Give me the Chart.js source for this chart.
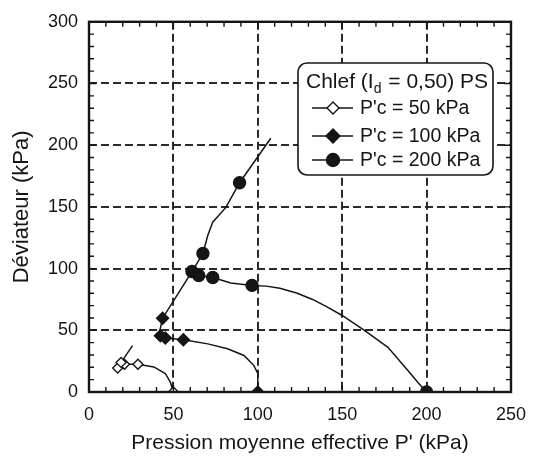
<!DOCTYPE html>
<html>
<head>
<meta charset="utf-8">
<script src="https://cdn.jsdelivr.net/npm/chart.js@4/dist/chart.umd.min.js"></script>
<style>
  html, body { margin: 0; padding: 0; background: #fff; }
  #wrap { width: 538px; height: 461px; position: relative; }
</style>
</head>
<body>
<div id="wrap"><canvas id="chart"></canvas></div>
<script>
const p50 = [50, 48.1, 45.2, 38.4, 29, 21, 17, 19, 25.8];
const q50 = [0, 8.3, 15, 20.3, 22.5, 22.5, 19.5, 24, 37.6];
const mk50 = [1, 0, 0, 0, 1, 1, 1, 1, 0];

const p100 = [100, 100, 97.6, 91.8, 82.1, 70.4, 55.9, 45.2, 42.3, 41.5, 43.6, 61];
const q100 = [0, 15, 21.6, 29.6, 35, 39, 42.4, 43.8, 45.6, 47, 59.8, 97.6];
const mk100 = [1, 0, 0, 0, 0, 0, 1, 1, 1, 0, 1, 0];

const p200 = [200, 195, 188.8, 177.1, 163.6, 150, 141, 132.5, 123, 113.1, 105, 96.6, 84, 73.3, 65, 61, 67.5, 70.4, 73.3, 81.1, 89.2, 107.7];
const q200 = [0, 7.5, 17.6, 36.2, 49.6, 62, 69, 75, 80.2, 84, 85.8, 86.4, 88.3, 92.8, 94.4, 97.6, 112.2, 127, 137.6, 149.6, 169.6, 205.6];
const mk200 = [1, 0, 0, 0, 0, 0, 0, 0, 0, 0, 0, 1, 0, 1, 1, 1, 1, 0, 0, 0, 1, 0];

const seriesLabels = ["P'c = 50 kPa", "P'c = 100 kPa", "P'c = 200 kPa"];
const xTicks = [0, 50, 100, 150, 200, 250];
const yTicks = [0, 50, 100, 150, 200, 250, 300];

const FONT = "'Liberation Sans', Arial, sans-serif";
const INK = "#151515";

function pts(px, qy) {
    return px.map((v, i) => ({ x: v, y: qy[i] }));
}

function serie(label, px, qy, mk, style, radius, fill) {
    return {
        label: label,
        data: pts(px, qy),
        showLine: true,
        borderColor: INK,
        borderWidth: 1.5,
        pointStyle: style,
        pointRadius: mk.map(m => (m ? radius : 0)),
        pointBackgroundColor: fill,
        pointBorderColor: INK,
        pointBorderWidth: 1.4,
        tension: 0,
    };
}

function drawMarker(ctx, style, x, y, r, fill) {
    ctx.beginPath();
    if (style === "circle") {
        ctx.arc(x, y, r, 0, Math.PI * 2);
    } else {
        ctx.moveTo(x, y - r);
        ctx.lineTo(x + r, y);
        ctx.lineTo(x, y + r);
        ctx.lineTo(x - r, y);
        ctx.closePath();
    }
    ctx.fillStyle = fill;
    ctx.fill();
    ctx.lineWidth = 1.4;
    ctx.strokeStyle = INK;
    ctx.stroke();
}

// cadre, petites graduations et legende
const decor = {
    id: "decor",
    afterDraw(chart) {
        const ctx = chart.ctx;
        const a = chart.chartArea;
        const xs = chart.scales.x;
        const ys = chart.scales.y;
        ctx.save();

        ctx.strokeStyle = INK;
        ctx.lineWidth = 1.4;
        for (let v = 10; v < 250; v += 10) {
            const px = xs.getPixelForValue(v);
            const len = v % 50 === 0 ? 7 : 5;
            ctx.beginPath();
            ctx.moveTo(px, a.bottom);
            ctx.lineTo(px, a.bottom - len);
            ctx.moveTo(px, a.top);
            ctx.lineTo(px, a.top + len);
            ctx.stroke();
        }
        for (let v = 10; v < 300; v += 10) {
            const py = ys.getPixelForValue(v);
            const len = v % 50 === 0 ? 7 : 5;
            ctx.beginPath();
            ctx.moveTo(a.left, py);
            ctx.lineTo(a.left + len, py);
            ctx.moveTo(a.right, py);
            ctx.lineTo(a.right - len, py);
            ctx.stroke();
        }

        ctx.lineWidth = 2.4;
        ctx.strokeRect(a.left, a.top, a.right - a.left, a.bottom - a.top);

        // legende
        const bx = 298, by = 63, bw = 195, bh = 112;
        ctx.beginPath();
        ctx.roundRect(bx, by, bw, bh, 9);
        ctx.fillStyle = "#fff";
        ctx.fill();
        ctx.lineWidth = 1.6;
        ctx.strokeStyle = INK;
        ctx.stroke();

        ctx.fillStyle = INK;
        ctx.textBaseline = "alphabetic";
        ctx.textAlign = "left";
        ctx.font = "21px " + FONT;
        let tx = bx + 8;
        const ty = by + 25;
        ctx.fillText("Chlef (I", tx, ty);
        tx += ctx.measureText("Chlef (I").width;
        ctx.font = "14px " + FONT;
        ctx.fillText("d", tx, ty + 5);
        tx += ctx.measureText("d").width + 1;
        ctx.font = "21px " + FONT;
        ctx.fillText(" = 0,50) PS", tx, ty);

        const rows = [
            { y: 108, style: "diamond", r: 6, fill: "#fff" },
            { y: 136, style: "diamond", r: 7, fill: INK },
            { y: 160, style: "circle", r: 6.5, fill: INK },
        ];
        ctx.textBaseline = "middle";
        rows.forEach((row, i) => {
            ctx.beginPath();
            ctx.moveTo(312, row.y);
            ctx.lineTo(353, row.y);
            ctx.lineWidth = 1.5;
            ctx.strokeStyle = INK;
            ctx.stroke();
            drawMarker(ctx, row.style, 333, row.y, row.r, row.fill);
            ctx.fillStyle = INK;
            ctx.font = "19.5px " + FONT;
            ctx.fillText(seriesLabels[i], 360, row.y + 1);
        });

        ctx.restore();
    },
};

function gridColor(c, max) {
    const v = c.tick ? c.tick.value : null;
    return v === 0 || v === max ? "rgba(0,0,0,0)" : "#2a2a2a";
}

new Chart(document.getElementById("chart"), {
    type: "scatter",
    data: {
        datasets: [
            serie(seriesLabels[0], p50, q50, mk50, "rectRot", 5, "#fff"),
            serie(seriesLabels[1], p100, q100, mk100, "rectRot", 6, INK),
            serie(seriesLabels[2], p200, q200, mk200, "circle", 6, INK),
        ],
    },
    options: {
        responsive: true,
        maintainAspectRatio: false,
        animation: false,
        layout: { padding: { left: 0, right: 20, top: 17, bottom: 0 } },
        plugins: {
            legend: { display: false },
            tooltip: { enabled: false },
        },
        scales: {
            x: {
                type: "linear",
                min: 0,
                max: 250,
                afterBuildTicks: (s) => { s.ticks = xTicks.map(v => ({ value: v })); },
                afterFit: (s) => { s.height = 69; },
                ticks: {
                    color: INK,
                    padding: 12,
                    font: { family: FONT, size: 18 },
                },
                grid: {
                    drawTicks: false,
                    color: (c) => gridColor(c, 250),
                    lineWidth: 2,
                },
                border: { display: false, dash: [8, 4] },
                title: {
                    display: true,
                    text: "Pression moyenne effective P' (kPa)",
                    color: INK,
                    font: { family: FONT, size: 21 },
                    padding: { top: 0, bottom: 5 },
                },
            },
            y: {
                type: "linear",
                min: 0,
                max: 300,
                afterBuildTicks: (s) => { s.ticks = yTicks.map(v => ({ value: v })); },
                afterFit: (s) => { s.width = 89; },
                ticks: {
                    color: INK,
                    padding: 11,
                    font: { family: FONT, size: 18 },
                },
                grid: {
                    drawTicks: false,
                    color: (c) => gridColor(c, 300),
                    lineWidth: 2,
                },
                border: { display: false, dash: [8, 4] },
                title: {
                    display: true,
                    text: "Déviateur (kPa)",
                    color: INK,
                    font: { family: FONT, size: 22 },
                    padding: { top: 9, bottom: 0 },
                },
            },
        },
    },
    plugins: [decor],
});
</script>
</body>
</html>
